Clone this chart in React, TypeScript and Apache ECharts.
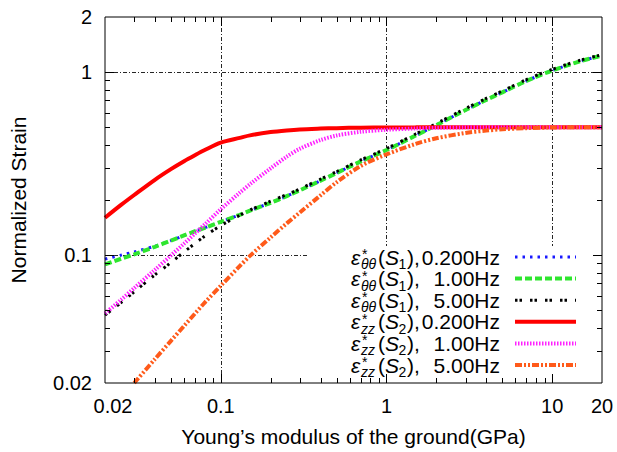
import React, { useEffect, useRef } from "react";
import * as echarts from "echarts";

// Young's modulus of the ground (GPa)
const E_GPA = [0.02, 0.025, 0.03, 0.04, 0.05, 0.06, 0.07, 0.08, 0.1, 0.13, 0.15, 0.2, 0.25, 0.3, 0.4, 0.5, 0.7, 1, 1.5, 2, 3, 4, 5, 7, 10, 15, 20];

// eps*_theta-theta (S1)
const S1_020HZ = [0.095, 0.1, 0.104, 0.112, 0.12, 0.128, 0.135, 0.141, 0.152, 0.166, 0.175, 0.193, 0.21, 0.226, 0.255, 0.281, 0.325, 0.375, 0.45, 0.513, 0.62, 0.705, 0.775, 0.895, 1.02, 1.15, 1.23];
const S1_100HZ = [0.089, 0.0955, 0.101, 0.111, 0.12, 0.128, 0.135, 0.141, 0.152, 0.166, 0.175, 0.193, 0.21, 0.226, 0.255, 0.281, 0.325, 0.375, 0.45, 0.513, 0.62, 0.705, 0.775, 0.895, 1.02, 1.15, 1.23];
const S1_500HZ = [0.047, 0.055, 0.063, 0.078, 0.091, 0.104, 0.116, 0.127, 0.145, 0.165, 0.176, 0.197, 0.214, 0.23, 0.26, 0.286, 0.331, 0.382, 0.459, 0.523, 0.632, 0.718, 0.788, 0.91, 1.035, 1.165, 1.245];
// eps*_zz (S2)
const S2_020HZ = [0.16, 0.188, 0.213, 0.258, 0.295, 0.326, 0.352, 0.375, 0.412, 0.437, 0.451, 0.47, 0.48, 0.486, 0.491, 0.494, 0.497, 0.498, 0.499, 0.5, 0.5, 0.5, 0.5, 0.5, 0.5, 0.5, 0.5];
const S2_100HZ = [0.048, 0.057, 0.066, 0.083, 0.0995, 0.1155, 0.1315, 0.147, 0.178, 0.219, 0.244, 0.298, 0.345, 0.381, 0.425, 0.45, 0.472, 0.484, 0.492, 0.496, 0.499, 0.5, 0.5, 0.5, 0.5, 0.5, 0.5];
const S2_500HZ = [null, null, 0.02, 0.027, 0.034, 0.041, 0.048, 0.055, 0.068, 0.087, 0.099, 0.125, 0.149, 0.171, 0.212, 0.25, 0.307, 0.355, 0.405, 0.435, 0.465, 0.479, 0.487, 0.494, 0.498, 0.5, 0.5];

const X_LABELS = [0.02, 0.1, 1, 10, 20];
const Y_LABELS = [0.02, 0.1, 1, 2];
const X_MAJOR = [0.1, 1, 10];
const Y_MAJOR = [0.1, 1];
const X_MINOR = [0.03, 0.04, 0.05, 0.06, 0.07, 0.08, 0.09, 0.2, 0.3, 0.4, 0.5, 0.6, 0.7, 0.8, 0.9, 2, 3, 4, 5, 6, 7, 8, 9];
const Y_MINOR = [0.03, 0.04, 0.05, 0.06, 0.07, 0.08, 0.09, 0.2, 0.3, 0.4, 0.5, 0.6, 0.7, 0.8, 0.9];
const X_MIN = 0.02, X_MAX = 20, Y_MIN = 0.02, Y_MAX = 2;

const LEGEND_SUB = ["θθ", "θθ", "θθ", "zz", "zz", "zz"];
const LEGEND_S = ["1", "1", "1", "2", "2", "2"];
const LEGEND_FREQ = ["0.200Hz", "1.00Hz", "5.00Hz", "0.200Hz", "1.00Hz", "5.00Hz"];

const SERIES_VALUES = [S1_020HZ, S1_100HZ, S1_500HZ, S2_020HZ, S2_100HZ, S2_500HZ];
const STYLES = [
  { color: "#1a1aff", width: 3, dash: [2.5, 5] },
  { color: "#2ee62e", width: 4, dash: [7, 3] },
  { color: "#000000", width: 3, dash: [2.5, 2, 2.5, 8] },
  { color: "#ff0000", width: 4, dash: null },
  { color: "#ff22ff", width: 4, dash: [1.5, 1.5] },
  { color: "#ff5a1a", width: 4, dash: [7, 2, 2, 2, 2, 2] },
];

const FONT = "'Liberation Sans', Arial, Helvetica, sans-serif";

function fmt(v: number) {
  return String(+Number(v).toPrecision(3));
}

export default function App() {
  const ref = useRef<HTMLDivElement>(null);
  useEffect(() => {
    document.body.style.margin = "0";
    const chart = echarts.init(ref.current!, null, { renderer: "svg" });

    const crisp = (v: number) => Math.round(v) + 0.5;

    const lineSeries = SERIES_VALUES.map((vals, i) => ({
      type: "line",
      name: `s${i}`,
      data: E_GPA.map((x, k) => [x, vals[k]]),
      showSymbol: false,
      smooth: 0.3,
      z: 3 + i * 0.01,
      lineStyle: {
        color: STYLES[i].color,
        width: STYLES[i].width,
        type: STYLES[i].dash ? STYLES[i].dash : "solid",
        cap: "butt",
      },
      clip: true,
    }));

    const gridLine = { stroke: "#000", lineWidth: 1, lineDash: [4, 2, 1, 2], opacity: 0.85 };

    const vGrid = {
      type: "custom",
      z: 1,
      silent: true,
      data: X_MAJOR.map((x) => [x, Y_MIN]),
      renderItem: (params: any, api: any) => {
        const x = api.value(0);
        const a = api.coord([x, Y_MIN]);
        const b = api.coord([x, Y_MAX]);
        return { type: "line", shape: { x1: crisp(a[0]), y1: a[1], x2: crisp(b[0]), y2: b[1] }, style: gridLine };
      },
    };
    const hGrid = {
      type: "custom",
      z: 1,
      silent: true,
      data: Y_MAJOR.map((y) => [X_MIN, y]),
      renderItem: (params: any, api: any) => {
        const y = api.value(1);
        const a = api.coord([X_MIN, y]);
        const b = api.coord([X_MAX, y]);
        return { type: "line", shape: { x1: a[0], y1: crisp(a[1]), x2: b[0], y2: crisp(b[1]) }, style: gridLine };
      },
    };
    const tickStyle = { stroke: "#000", lineWidth: 1 };
    const xTicks = {
      type: "custom",
      z: 6,
      silent: true,
      data: [...X_MAJOR, ...X_MINOR].map((x) => [x, Y_MIN]),
      renderItem: (params: any, api: any) => {
        const x = api.value(0);
        const L = X_MAJOR.includes(x) ? 9 : 5;
        const a = api.coord([x, Y_MIN]);
        const b = api.coord([x, Y_MAX]);
        const px = crisp(a[0]);
        return {
          type: "group",
          children: [
            { type: "line", shape: { x1: px, y1: a[1], x2: px, y2: a[1] - L }, style: tickStyle },
            { type: "line", shape: { x1: px, y1: b[1], x2: px, y2: b[1] + L }, style: tickStyle },
          ],
        };
      },
    };
    const yTicks = {
      type: "custom",
      z: 6,
      silent: true,
      data: [...Y_MAJOR, ...Y_MINOR].map((y) => [X_MIN, y]),
      renderItem: (params: any, api: any) => {
        const y = api.value(1);
        const L = Y_MAJOR.includes(y) ? 9 : 5;
        const a = api.coord([X_MIN, y]);
        const b = api.coord([X_MAX, y]);
        const py = crisp(a[1]);
        return {
          type: "group",
          children: [
            { type: "line", shape: { x1: a[0], y1: py, x2: a[0] + L, y2: py }, style: tickStyle },
            { type: "line", shape: { x1: b[0], y1: py, x2: b[0] - L, y2: py }, style: tickStyle },
          ],
        };
      },
    };

    // Legend (graphic texts, so the stacked super/subscripts can be placed)
    const f = 21;
    const fs = 14;
    const legendEls: any[] = [
      { type: "rect", z: 2, silent: true, shape: { x: 308, y: 246, width: 293, height: 137 }, style: { fill: "#fff" } },
    ];
    for (let i = 0; i < 6; i++) {
      const y = 257 + 21.6 * i;
      const t = (text: string, x: number, yy: number, size: number, italic: boolean, align = "left") => ({
        type: "text",
        z: 10,
        silent: true,
        x,
        y: yy,
        style: {
          text,
          fill: "#000",
          font: `${italic ? "italic " : ""}${size}px ${FONT}`,
          textAlign: align,
          textVerticalAlign: "middle",
        },
      });
      legendEls.push(t("ε", 351, y, f, true));
      legendEls.push(t("*", 362, y - 3, fs, false));
      legendEls.push(t(LEGEND_SUB[i], 361, y + 7, fs, true));
      legendEls.push(t("(", 378, y, f, false));
      legendEls.push(t("S", 385, y, f, true));
      legendEls.push(t(LEGEND_S[i], 398.5, y + 7, fs, false));
      legendEls.push(t("),", 407, y, f, false));
      legendEls.push(t(LEGEND_FREQ[i], 500, y, f, false, "right"));
      const st = STYLES[i];
      legendEls.push({
        type: "line",
        z: 10,
        silent: true,
        shape: { x1: 515, y1: y, x2: 576, y2: y },
        style: { stroke: st.color, lineWidth: st.width, lineDash: st.dash || undefined, lineCap: "butt" },
      });
    }

    chart.setOption({
      animation: false,
      backgroundColor: "#fff",
      grid: { left: 104, right: 15, top: 17, bottom: 68, show: true, borderColor: "#000", borderWidth: 1, backgroundColor: "transparent", z: 7 },
      xAxis: {
        type: "log",
        logBase: 10,
        min: X_MIN,
        max: X_MAX,
        axisLine: { show: false },
        axisTick: { show: false },
        splitLine: { show: false },
        minorTick: { show: false },
        axisLabel: {
          customValues: X_LABELS,
          formatter: (v: number) => (Math.abs(v - X_MIN) < 1e-9 ? `{p|${fmt(v)}}` : fmt(v)),
          fontSize: 20,
          fontFamily: FONT,
          color: "#000",
          margin: 13,
          rich: { p: { fontSize: 20, fontFamily: FONT, color: "#000", padding: [0, 0, 0, 16] } },
        },
        name: "Young\u2019s modulus of the ground(GPa)",
        nameLocation: "middle",
        nameGap: 43,
        nameTextStyle: { fontSize: f, fontFamily: FONT, color: "#000" },
      },
      yAxis: {
        type: "log",
        logBase: 10,
        min: Y_MIN,
        max: Y_MAX,
        axisLine: { show: false },
        axisTick: { show: false },
        splitLine: { show: false },
        minorTick: { show: false },
        axisLabel: {
          customValues: Y_LABELS,
          formatter: (v: number) => fmt(v),
          fontSize: 20,
          fontFamily: FONT,
          color: "#000",
          margin: 13,
        },
        name: "Normalized Strain",
        nameLocation: "middle",
        nameGap: 76,
        nameTextStyle: { fontSize: f, fontFamily: FONT, color: "#000" },
      },
      graphic: { elements: legendEls },
      series: [vGrid, hGrid, ...lineSeries, xTicks, yTicks],
    });
    return () => chart.dispose();
  }, []);
  return <div ref={ref} style={{ width: 617, height: 452 }} />;
}
